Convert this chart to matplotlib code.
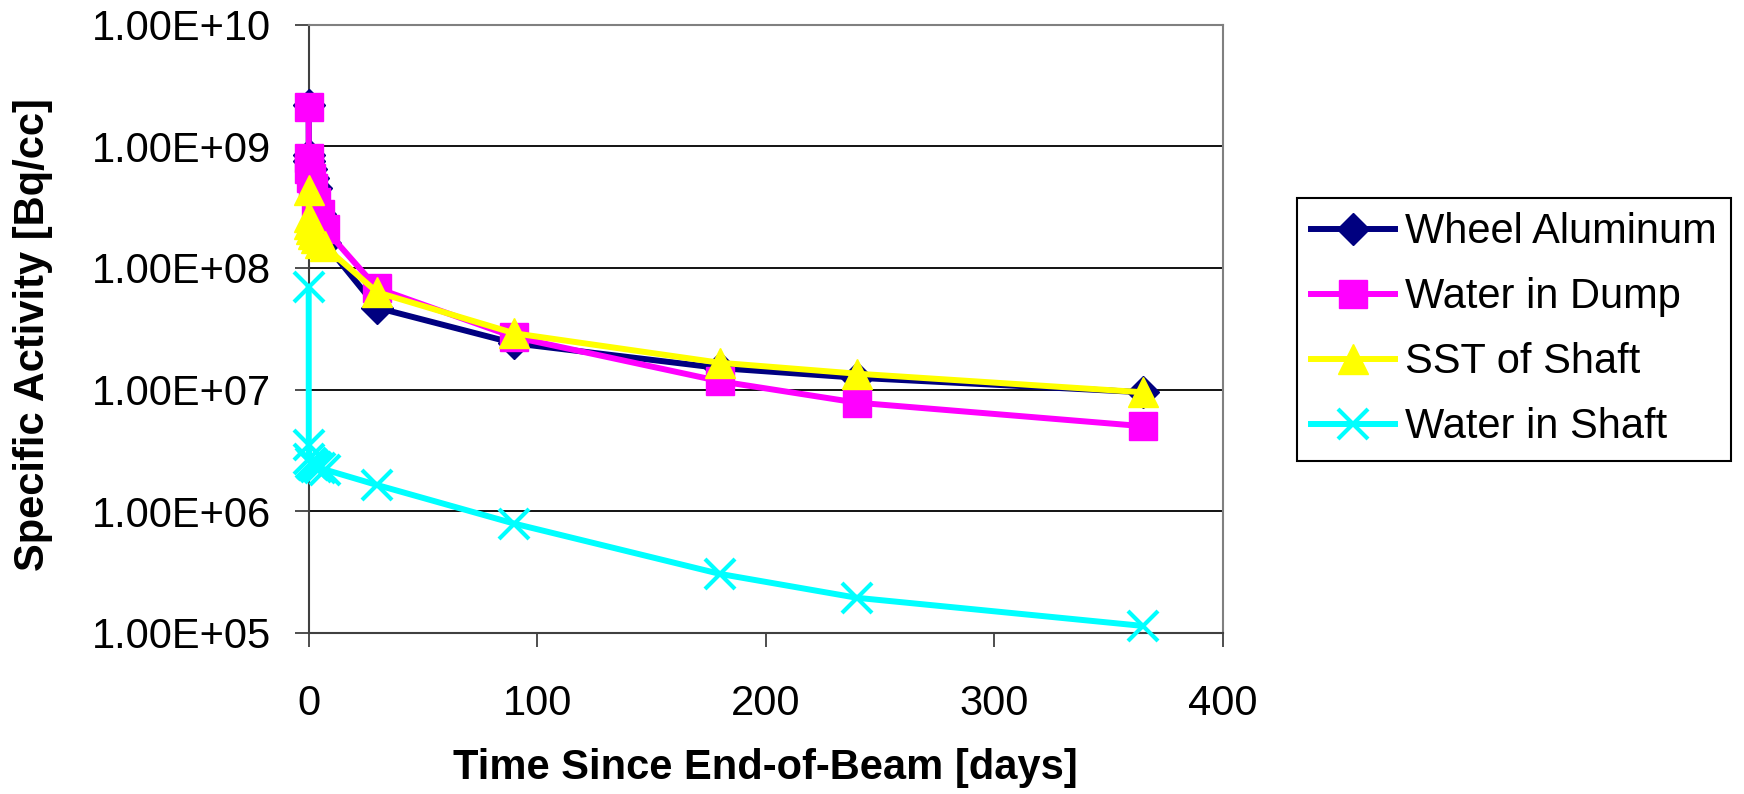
import matplotlib
matplotlib.use("Agg")
from matplotlib import pyplot as plt
from matplotlib.ticker import FixedLocator, FuncFormatter

plt.rcParams['font.family'] = ['Liberation Sans', 'DejaVu Sans']

# time since end of beam, days
days = [0, 0.04, 0.25, 1, 2, 3, 5, 7, 30, 90, 180, 240, 365]

wheel_aluminum = [2.2e9, 8.5e8, 7.5e8, 6.5e8, 5.5e8, 4.5e8, 2.8e8, 1.6e8,
                  4.7e7, 2.4e7, 1.5e7, 1.25e7, 9.5e6]
water_in_dump = [2.1e9, 8.0e8, 6.5e8, 5.5e8, 4.5e8, 3.5e8, 2.8e8, 2.1e8,
                 6.8e7, 2.7e7, 1.17e7, 7.8e6, 5.0e6]
sst_of_shaft = [4.4e8, 2.6e8, 2.3e8, 2.1e8, 1.9e8, 1.75e8, 1.6e8, 1.5e8,
                6.3e7, 2.9e7, 1.66e7, 1.35e7, 9.5e6]
water_in_shaft = [7.0e7, 3.5e6, 2.7e6, 2.5e6, 2.4e6, 2.3e6, 2.25e6, 2.2e6,
                  1.64e6, 7.9e5, 3.05e5, 1.94e5, 1.14e5]

series_names = ["Wheel Aluminum", "Water in Dump", "SST of Shaft", "Water in Shaft"]
y_ticks = [1e5, 1e6, 1e7, 1e8, 1e9, 1e10]
x_ticks = [0, 100, 200, 300, 400]

fig = plt.figure(figsize=(17.44, 7.94), dpi=100)
ax = fig.add_axes([0.177, 0.203, 0.524, 0.766])

lw = 4.3
ax.plot(days, wheel_aluminum, color='#000080', lw=lw, marker='D', ms=16,
        label=series_names[0], zorder=3, clip_on=False)
ax.plot(days, water_in_dump, color='#FF00FF', lw=lw, marker='s', ms=20,
        label=series_names[1], zorder=4, clip_on=False)
ax.plot(days, sst_of_shaft, color='#FFFF00', lw=lw, marker='^', ms=22,
        label=series_names[2], zorder=5, clip_on=False)
ax.plot(days, water_in_shaft, color='#00FFFF', lw=lw, marker='x', ms=22,
        mew=3, label=series_names[3], zorder=6, clip_on=False)

ax.set_yscale('log')
ax.set_ylim(1e5, 1e10)
ax.set_xlim(0, 400)
ax.yaxis.set_major_locator(FixedLocator(y_ticks))
ax.yaxis.set_minor_locator(FixedLocator([]))
ax.yaxis.set_major_formatter(FuncFormatter(lambda v, p: f"{v:.2E}"))
ax.xaxis.set_major_locator(FixedLocator(x_ticks))

ax.grid(axis='y', color='black', lw=1.3, zorder=1)
ax.tick_params(axis='both', direction='out', length=10, width=1.3,
               labelsize=30, color='#404040')
ax.tick_params(axis='y', pad=17)
ax.tick_params(axis='x', pad=27)

for side in ['left', 'bottom']:
    ax.spines[side].set_color('#404040')
    ax.spines[side].set_linewidth(1.5)
for side in ['top', 'right']:
    ax.spines[side].set_color('#808080')
    ax.spines[side].set_linewidth(1.5)

ax.set_xlabel("Time Since End-of-Beam [days]", fontsize=30, fontweight='bold')
ax.set_ylabel("Specific Activity [Bq/cc]", fontsize=30, fontweight='bold')
ax.xaxis.set_label_coords(0.5, -0.19)
ax.yaxis.set_label_coords(-0.28, 0.49)

leg = fig.legend(loc='upper left', bbox_to_anchor=(0.7437, 0.7506),
                 fontsize=30, frameon=True, fancybox=False, edgecolor='black',
                 framealpha=1, borderpad=0.34, labelspacing=0.6,
                 handlelength=2.0, handletextpad=0.26, borderaxespad=0)
leg.get_frame().set_linewidth(1.5)

fig.savefig("out.png", dpi=100)
